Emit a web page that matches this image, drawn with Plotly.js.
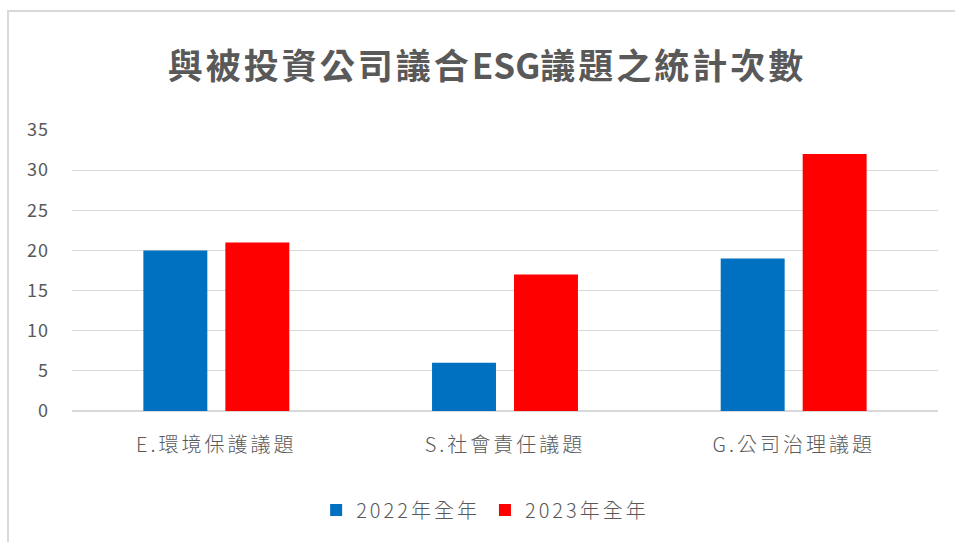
<!DOCTYPE html>
<html>
<head>
<meta charset="utf-8">
<script src="https://cdn.plot.ly/plotly-3.0.1.min.js"></script>
<style>
html,body{margin:0;padding:0;background:#fff;}
#wrap{position:relative;width:955px;height:542px;overflow:hidden;}
#chart{width:955px;height:542px;}
#frame{position:absolute;left:7px;top:10px;width:960px;height:540px;border:2px solid #d9d9d9;pointer-events:none;box-sizing:border-box;}
.gtitle{letter-spacing:3px;}
.xtick text{letter-spacing:3px;}
.legendtext{letter-spacing:3px;}
.ytick text{letter-spacing:1px;}
</style>
</head>
<body>
<div id="wrap"><div id="chart"></div><div id="frame"></div></div>
<script>
const categories = ["E.環境保護議題", "S.社會責任議題", "G.公司治理議題"];
const seriesNames = ["2022年全年", "2023年全年"];
const values2022 = [20, 6, 19];
const values2023 = [21, 17, 32];
const yTicks = [0, 5, 10, 15, 20, 25, 30, 35];
const titleParts = ["與被投資公司議合", "ESG", "議題之統計次數"];

const font = "'Noto Sans CJK TC', 'Noto Sans', sans-serif";
const traces = [
  {type: 'bar', name: seriesNames[0], x: categories, y: values2022, marker: {color: '#0070C0'}},
  {type: 'bar', name: seriesNames[1], x: categories, y: values2023, marker: {color: '#FF0000'}}
];
const titleText = '<b>' + titleParts[0] + '<span style="letter-spacing:0px">' + titleParts[1] + '</span>' + titleParts[2] + '</b>';
const layout = {
  width: 955, height: 542,
  margin: {l: 72, r: 17, t: 130, b: 131},
  paper_bgcolor: '#fff', plot_bgcolor: '#fff',
  font: {family: font, color: '#595959'},
  title: {text: titleText, x: 487/955, xref: 'container', y: 1 - 67/542, yref: 'container', yanchor: 'middle', xanchor: 'center', font: {size: 35, color: '#595959', family: font}},
  barmode: 'group', bargap: 0.432, bargroupgap: 0.22,
  showlegend: true,
  legend: {orientation: 'h', x: 0.508, xref: 'container', xanchor: 'center', y: 1 - 510/542, yref: 'container', yanchor: 'middle', font: {size: 20, color: '#595959', weight: 300}, itemwidth: 30, traceorder: 'normal'},
  xaxis: {tickfont: {size: 20, color: '#595959', weight: 300}, showgrid: false, showline: false, ticks: '', ticklabelstandoff: 20, fixedrange: true},
  yaxis: {range: [0, 35], tickvals: yTicks, tickfont: {size: 18, color: '#595959'}, gridcolor: '#d9d9d9', gridwidth: 1, zeroline: true, zerolinecolor: '#d9d9d9', zerolinewidth: 2, showline: false, ticks: '', ticklabelstandoff: 22, fixedrange: true}
};
Plotly.newPlot('chart', traces, layout, {displayModeBar: false, staticPlot: true});
</script>
</body>
</html>
